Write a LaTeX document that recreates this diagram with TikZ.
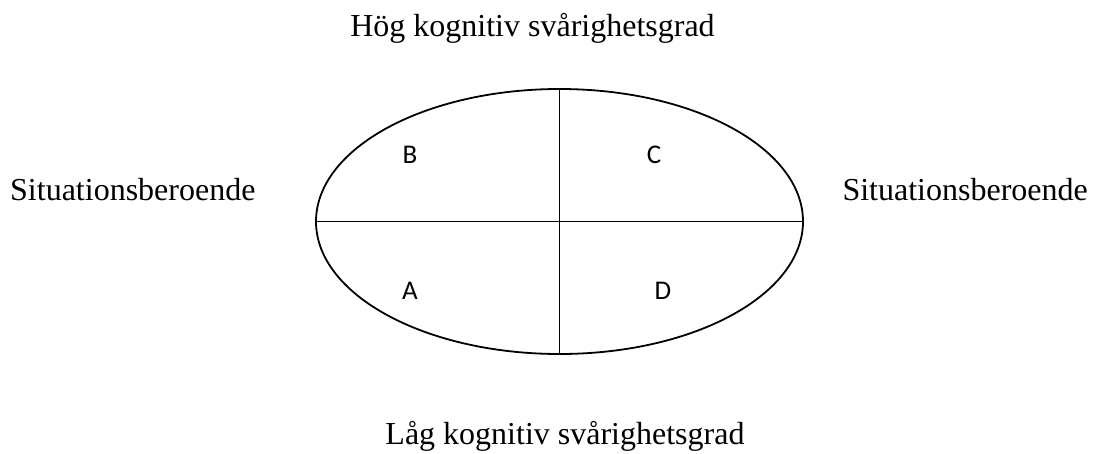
\documentclass[tikz,border=0pt]{standalone}
\usepackage{fontspec}
\setmainfont{Liberation Serif}
\newfontfamily\letterfont{Carlito}
\usetikzlibrary{shapes.geometric}
\tikzset{
  axislabel/.style={font=\fontsize{32}{38}\selectfont, inner sep=0pt},
  quadlabel/.style={font=\letterfont\fontsize{27}{32}\selectfont, inner sep=0pt, anchor=base},
  oval/.style={draw, line width=1.8pt, ellipse, inner sep=0pt, minimum width=487pt, minimum height=265pt},
  divider/.style={line width=1.8pt}
}
\begin{document}
\begin{tikzpicture}[x=1pt,y=-1pt]
\useasboundingbox (0,0) rectangle (1097,453);
\node[oval] (e) at (559.5,221.5) {};
\draw[divider] (e.north) -- (e.south);
\draw[divider] (e.west) -- (e.east);
\node[quadlabel] (B) at (410,163) {B};
\node[quadlabel] (C) at (654,163) {C};
\node[quadlabel] (A) at (410,299) {A};
\node[quadlabel] (D) at (663,299) {D};
\node[axislabel, anchor=base] (top) at (532.5,36) {Hög kognitiv svårighetsgrad};
\node[axislabel, anchor=base] (bottom) at (565,444) {Låg kognitiv svårighetsgrad};
\node[axislabel, anchor=base west] (left) at (10,200) {Situationsberoende};
\node[axislabel, anchor=base east] (right) at (1088,200) {Situationsberoende};
\end{tikzpicture}
\end{document}
